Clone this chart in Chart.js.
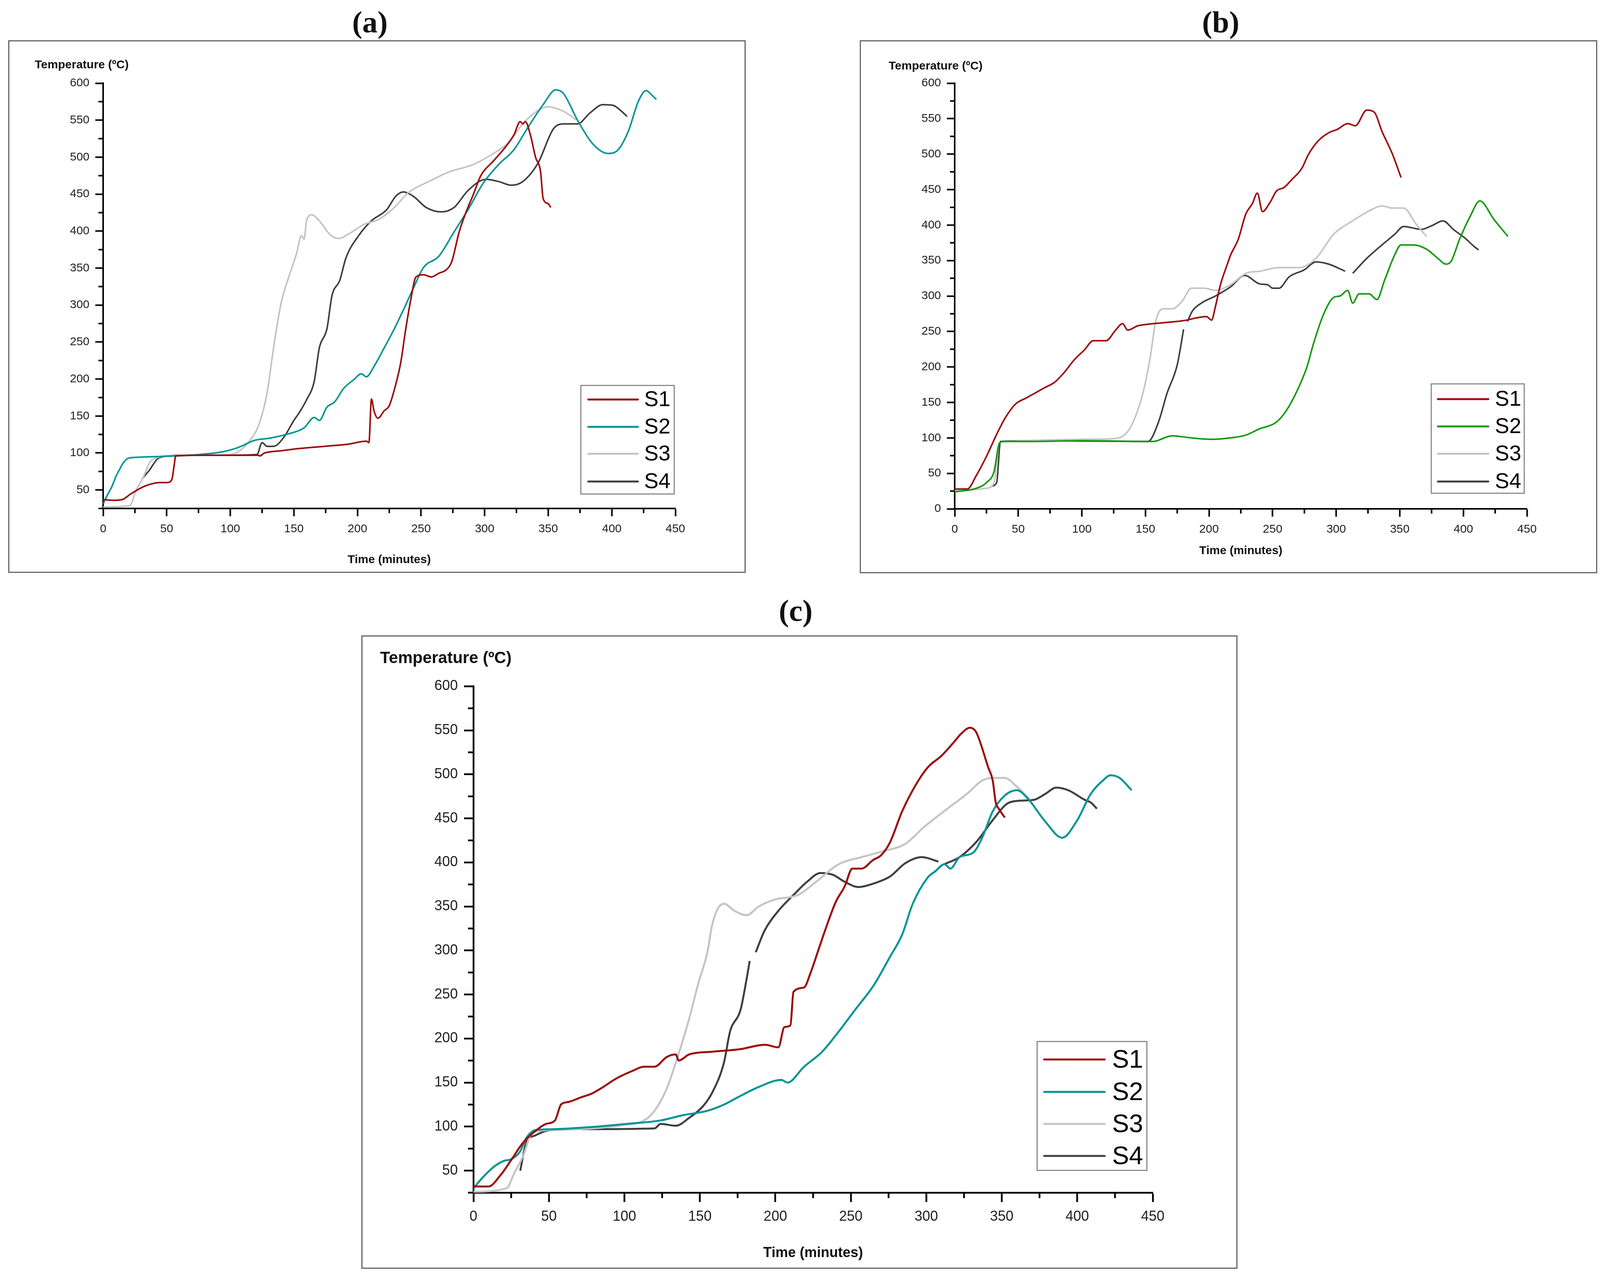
<!DOCTYPE html>
<html>
<head>
<meta charset="utf-8">
<script src="https://cdn.jsdelivr.net/npm/chart.js@4.4.1/dist/chart.umd.min.js"></script>
<style>
  html, body { margin:0; padding:0; background:#fff; }
  body { width:4110px; height:3270px; position:relative; overflow:hidden; }
  canvas { position:absolute; }
  .frame { position:absolute; box-sizing:border-box; border:3px solid #666; pointer-events:none; }
  .plabel { position:absolute; transform:translate(-50%,-50%); font-family:'Liberation Serif','DejaVu Serif',serif; font-weight:bold; font-size:78px; line-height:1; color:#111; white-space:nowrap; }
</style>
</head>
<body>
<div class="plabel" style="left:947px;top:57px;">(a)</div>
<div class="plabel" style="left:3125px;top:57px;">(b)</div>
<div class="plabel" style="left:2037px;top:1564px;">(c)</div>
<canvas id="ca" width="1888" height="1364" style="left:21px;top:103px;"></canvas>
<canvas id="cb" width="1888" height="1365" style="left:2201px;top:103px;"></canvas>
<canvas id="cc" width="2243" height="1622" style="left:925px;top:1627px;"></canvas>
<div class="frame" style="left:21px;top:103px;width:1888px;height:1364px;"></div>
<div class="frame" style="left:2201px;top:103px;width:1888px;height:1365px;"></div>
<div class="frame" style="left:925px;top:1627px;width:2243px;height:1622px;"></div>
<script>
// ---------------- DATA ----------------
const seriesNames = ['S1', 'S2', 'S3', 'S4'];
const xTicks = [0, 50, 100, 150, 200, 250, 300, 350, 400, 450];
const xMinor = [25, 75, 125, 175, 225, 275, 325, 375, 425];
const yTicksA = [50, 100, 150, 200, 250, 300, 350, 400, 450, 500, 550, 600];
const yTicksB = [0, 50, 100, 150, 200, 250, 300, 350, 400, 450, 500, 550, 600];
const yTicksC = [50, 100, 150, 200, 250, 300, 350, 400, 450, 500, 550, 600];
const yMinor = [25, 75, 125, 175, 225, 275, 325, 375, 425, 475, 525, 575];

// Panel (a)
const timeA1 = [0, 8, 15, 22, 32.5, 40, 44, 50, 54, 56, 57, 80, 110, 122, 123, 127, 140, 154, 174, 193, 207, 209, 211, 213, 216, 221, 225, 230, 234, 238, 242, 246, 252, 258, 264, 270, 274, 280, 285, 291, 297, 307, 317, 323, 328, 330, 332, 336, 340, 344, 346, 350, 352];
const tempA1 = [37, 36, 37, 45, 55, 59, 60, 60, 64, 85, 96, 97, 97, 97, 96, 100, 103, 106, 109, 112, 116, 114, 173, 157, 147, 157, 164, 192, 222, 268, 308, 338, 341, 338, 343, 348, 358, 399, 424, 449, 475, 495, 515, 530, 548, 545, 548, 530, 500, 480, 444, 437, 432];
const timeA2 = [0, 3, 7, 10, 13, 16, 20, 25, 56, 76, 95, 107, 119, 131, 146, 158, 166, 170, 176, 182, 189, 197, 203, 207, 213, 221, 229, 236, 244, 252, 264, 276, 287, 299, 311, 323, 334, 346, 356, 362, 373, 385, 397, 405, 413, 421, 427, 432, 435];
const tempA2 = [31, 42, 55, 68, 78, 87, 93, 94, 96, 98, 102, 108, 117, 120, 126, 134, 148, 144, 162, 169, 187, 199, 207, 203, 217, 242, 268, 293, 323, 351, 366, 399, 429, 465, 490, 510, 540, 571, 591, 586, 550, 518, 505, 510, 535, 576, 590, 583, 578];
const timeA3 = [0, 21, 26, 31.5, 36.5, 43, 48, 80, 100, 115, 123, 129, 134, 140, 146, 152, 156, 158, 160, 164, 170, 178, 185, 193, 205, 217, 229, 240, 256, 272, 291, 307, 319, 330, 342, 350, 358, 366, 372];
const tempA3 = [27, 29, 50, 67, 87, 94, 96, 97, 98, 116, 141, 182, 242, 303, 338, 369, 394, 389, 414, 422, 414, 396, 390, 396, 409, 416, 432, 452, 467, 480, 490, 505, 520, 545, 563, 568, 565, 558, 550];
const timeA4 = [30.6, 36.5, 42.7, 47, 60, 100, 121, 125, 129, 134, 142, 150, 154, 160, 166, 170, 176, 180, 186, 191, 201, 211, 223, 230, 236, 244, 254, 266, 276, 287, 301, 311, 321, 330, 342, 354, 362, 373, 383, 393, 401, 407, 412];
const tempA4 = [65, 77, 92, 95, 97, 97, 98, 114, 109, 109, 121, 144, 154, 172, 197, 242, 268, 313, 333, 364, 394, 414, 429, 447, 453, 447, 432, 426, 432, 455, 470, 467, 462, 467, 492, 538, 545, 545, 560, 571, 570, 563, 555];

// Panel (b)
const timeB1 = [0, 10, 17, 25, 33, 40, 48, 56, 63, 71, 79, 86, 94, 102, 109, 119, 127, 132, 136, 144, 156, 179, 198, 202, 205, 209, 215, 217, 223, 229, 234, 238, 242, 248, 253, 259, 265, 273, 278, 286, 294, 301, 309, 315, 324, 330, 336, 344, 351];
const tempB1 = [28, 28, 47, 74, 105, 129, 148, 156, 163, 171, 179, 192, 210, 224, 237, 237, 253, 261, 252, 258, 261, 265, 271, 266, 285, 316, 348, 358, 380, 416, 430, 445, 419, 432, 448, 453, 464, 480, 499, 519, 530, 535, 543, 540, 562, 559, 532, 501, 467];
const timeB2 = [0, 17, 25, 31, 35, 38, 60, 100, 156, 171, 186, 202, 217, 229, 240, 252, 259, 267, 277, 282, 290, 298, 303, 309, 313, 318, 326, 332, 338, 346, 351, 361, 371, 380, 386, 390, 397, 405, 413, 424, 435];
const tempB2 = [24, 29, 37, 53, 92, 95, 95, 96, 95, 103, 100, 98, 100, 104, 113, 121, 134, 158, 200, 232, 274, 298, 300, 308, 290, 303, 303, 295, 322, 358, 372, 372, 366, 353, 345, 348, 380, 411, 434, 408, 384];
const timeB3 = [0, 25, 31, 35, 40, 102, 125, 134, 140, 148, 154, 158, 164, 171, 179, 186, 196, 205, 217, 229, 240, 255, 271, 284, 298, 313, 328, 336, 344, 353, 363, 371];
const tempB3 = [25, 29, 37, 92, 95, 98, 99, 105, 121, 163, 216, 264, 282, 282, 293, 311, 311, 308, 316, 332, 335, 340, 340, 353, 387, 406, 422, 427, 424, 424, 401, 384];
const timeB4 = [29, 33, 36, 60, 148, 152, 160, 167, 175, 180, 181.5, 183, 187, 194, 205, 217, 228, 240, 246, 250, 255, 263, 275, 284, 294, 307, 310, 313, 324, 336, 346, 353, 367, 375, 384, 392, 401, 409, 412];
const tempB4 = [32, 37, 95, 96, 95, 95, 121, 163, 203, 253, null, 264, 279, 290, 300, 313, 329, 317, 316, 311, 311, 327, 337, 348, 345, 335, null, 332, 353, 372, 387, 398, 394, 399, 406, 394, 382, 369, 365];

// Panel (c)
const timeC1 = [0, 10, 18, 25, 33, 41, 48, 54, 58, 63, 71, 79, 86, 94, 105, 113, 120, 128, 134, 136, 143, 158, 177, 193, 202, 206, 210, 212, 219, 223, 229, 234, 240, 246, 251, 257, 265, 270, 276, 284, 293, 301, 310, 318, 323, 329, 333, 341, 344, 346, 348, 352];
const tempC1 = [32, 32, 45, 62, 82, 95, 103, 107, 125, 128, 133, 138, 145, 154, 163, 168, 168, 179, 182, 175, 182, 185, 188, 193, 190, 213, 215, 253, 258, 273, 303, 328, 355, 373, 393, 393, 403, 408, 423, 458, 488, 508, 521, 536, 546, 553, 548, 508, 493, 468, 461, 451];
const timeC2 = [0, 6, 14, 20, 25, 31, 35, 41, 52, 82, 101, 124, 139, 155, 166, 177, 189, 204, 208, 219, 231, 242, 253, 265, 276, 284, 291, 301, 306, 312, 316, 322, 331, 337, 344, 352, 360, 367, 379, 390, 400, 409, 417, 422, 428, 436];
const tempC2 = [30, 42, 55, 61, 63, 72, 87, 96, 97, 100, 103, 107, 113, 118, 125, 135, 145, 153, 150, 168, 185, 208, 233, 260, 293, 318, 353, 383, 390, 398, 393, 406, 411, 428, 458, 476, 482, 473, 446, 428, 448, 478, 493, 499, 496, 482];
const timeC3 = [0, 22, 27, 33, 39, 52, 101, 113, 120, 128, 136, 143, 149, 155, 158, 162, 166, 173, 181, 189, 200, 215, 227, 242, 257, 272, 286, 299, 314, 327, 337, 344, 352, 360, 369];
const tempC3 = [26, 30, 47, 67, 93, 96, 102, 107, 118, 143, 183, 223, 263, 298, 328, 348, 353, 345, 340, 350, 358, 363, 378, 398, 406, 413, 421, 441, 461, 478, 493, 496, 496, 486, 471];
const timeC4 = [31, 35, 41, 48, 60, 120, 124, 134, 143, 152, 158, 166, 170, 177, 181, 183, 184.5, 187, 193, 202, 212, 221, 230, 238, 246, 255, 265, 276, 286, 297, 308, 310, 312, 322, 333, 344, 353, 361, 371, 379, 386, 394, 405, 409, 413];
const tempC4 = [50, 82, 90, 95, 97, 98, 103, 101, 110, 123, 138, 173, 208, 233, 268, 288, null, 298, 323, 345, 363, 378, 388, 386, 378, 372, 376, 384, 399, 406, 401, null, 398, 406, 423, 448, 466, 470, 471, 478, 485, 482, 471, 468, 461];

// ---------------- STYLE / LAYOUT ----------------
const FONT = "'Liberation Sans', Arial, sans-serif";
const colorsTeal = ['#9b0b0b', '#009494', '#c4c4c4', '#3f3f3f'];
const colorsGreen = ['#9b0b0b', '#139a13', '#c4c4c4', '#3f3f3f'];

const pair = (ts, vs) => ts.map((t, i) => ({ x: t, y: vs[i] }));

const minorTicksPlugin = {
  id: 'minorTicks',
  afterDraw(chart, args, o) {
    const { ctx, chartArea } = chart;
    const xs = chart.scales.x, ys = chart.scales.y;
    ctx.save();
    ctx.strokeStyle = '#000';
    ctx.lineWidth = o.width;
    ctx.beginPath();
    o.x.forEach(v => {
      const px = xs.getPixelForValue(v);
      ctx.moveTo(px, chartArea.bottom);
      ctx.lineTo(px, chartArea.bottom + o.len);
    });
    o.y.forEach(v => {
      const py = ys.getPixelForValue(v);
      ctx.moveTo(chartArea.left, py);
      ctx.lineTo(chartArea.left - o.len, py);
    });
    ctx.stroke();
    ctx.restore();
  }
};

const boxLegendPlugin = {
  id: 'boxLegend',
  afterDraw(chart, args, o) {
    const { ctx } = chart;
    ctx.save();
    ctx.fillStyle = '#fff';
    ctx.fillRect(o.box[0], o.box[1], o.box[2] - o.box[0], o.box[3] - o.box[1]);
    ctx.strokeStyle = '#777';
    ctx.lineWidth = 2.5;
    ctx.strokeRect(o.box[0], o.box[1], o.box[2] - o.box[0], o.box[3] - o.box[1]);
    ctx.font = o.fontSize + 'px ' + FONT;
    ctx.textBaseline = 'middle';
    ctx.textAlign = 'left';
    chart.data.datasets.forEach((ds, i) => {
      const y = o.rows[i];
      ctx.strokeStyle = ds.borderColor;
      ctx.lineWidth = o.lineW;
      ctx.lineCap = 'round';
      ctx.beginPath();
      ctx.moveTo(o.lineX[0], y);
      ctx.lineTo(o.lineX[1], y);
      ctx.stroke();
      ctx.fillStyle = '#000';
      ctx.fillText(ds.label, o.textX, y + o.fontSize * 0.04);
    });
    ctx.restore();
  }
};

function makePanel(id, series, colors, yMin, yTicks, P) {
  const datasets = series.map((s, i) => ({
    label: seriesNames[i],
    data: pair(s[0], s[1]),
    borderColor: colors[i],
    backgroundColor: colors[i],
    borderWidth: P.lineW,
    pointRadius: 0,
    fill: false,
    spanGaps: false,
    cubicInterpolationMode: 'monotone'
  }));
  return new Chart(document.getElementById(id), {
    type: 'line',
    data: { datasets },
    options: {
      responsive: false,
      animation: false,
      devicePixelRatio: 1,
      events: [],
      layout: { padding: P.pad },
      scales: {
        x: {
          type: 'linear', min: 0, max: 450,
          afterBuildTicks: s => { s.ticks = xTicks.map(v => ({ value: v })); },
          afterFit: s => { s.height = P.xH; },
          grid: { display: true, drawOnChartArea: false, drawTicks: true, tickLength: P.tickLen, tickWidth: P.axisW, tickColor: '#000' },
          border: { display: true, width: P.axisW, color: '#000' },
          ticks: { font: { family: FONT, size: P.tickFont }, color: '#222', padding: P.tickPad, maxRotation: 0, autoSkip: false },
          title: { display: true, text: 'Time (minutes)', color: '#111', font: { family: FONT, size: P.xTitleFont, weight: 'bold' }, padding: { top: 0, bottom: P.xTitlePadB } }
        },
        y: {
          type: 'linear', min: yMin, max: 600,
          afterBuildTicks: s => { s.ticks = yTicks.map(v => ({ value: v })); },
          afterFit: s => { s.width = P.yW; },
          grid: { display: true, drawOnChartArea: false, drawTicks: true, tickLength: P.tickLen, tickWidth: P.axisW, tickColor: '#000' },
          border: { display: true, width: P.axisW, color: '#000' },
          ticks: { font: { family: FONT, size: P.tickFont }, color: '#222', padding: P.tickPad, autoSkip: false }
        }
      },
      plugins: {
        legend: { display: false },
        tooltip: { enabled: false },
        title: { display: true, text: 'Temperature (ºC)', align: 'start', color: '#111', font: { family: FONT, size: P.titleFont, weight: 'bold', lineHeight: 1.2 }, padding: P.titlePad },
        minorTicks: { x: xMinor, y: yMinor, len: P.minorLen, width: P.axisW },
        boxLegend: P.legend
      }
    },
    plugins: [minorTicksPlugin, boxLegendPlugin]
  });
}

const layoutA = {
  pad: { left: 68, top: 30, right: 180, bottom: 0 }, yW: 175, xH: 165,
  titleFont: 30, titlePad: { top: 16, bottom: 28 }, xTitleFont: 30, xTitlePadB: 15,
  tickFont: 30, tickPad: 15, tickLen: 20, minorLen: 12, axisW: 4, lineW: 4,
  legend: { box: [1466, 884, 1705, 1162], rows: [920, 990, 1059, 1130], lineX: [1485, 1612], textX: 1628, fontSize: 55, lineW: 5 }
};
const layoutB = {
  pad: { left: 74, top: 30, right: 180, bottom: 0 }, yW: 169, xH: 165,
  titleFont: 30, titlePad: { top: 19, bottom: 25 }, xTitleFont: 30, xTitlePadB: 39,
  tickFont: 30, tickPad: 15, tickLen: 20, minorLen: 12, axisW: 4, lineW: 4,
  legend: { box: [1463, 880, 1701, 1160], rows: [919, 989, 1059, 1130], lineX: [1480, 1609], textX: 1626, fontSize: 55, lineW: 5 }
};
const layoutC = {
  pad: { left: 48, top: 10, right: 217, bottom: 0 }, yW: 239, xH: 195,
  titleFont: 42, titlePad: { top: 24, bottom: 46 }, xTitleFont: 36, xTitlePadB: 18,
  tickFont: 36, tickPad: 16, tickLen: 24, minorLen: 14, axisW: 4.5, lineW: 5,
  legend: { box: [1730, 1040, 2011, 1370], rows: [1086, 1169, 1251, 1333], lineX: [1748, 1903], textX: 1922, fontSize: 65, lineW: 5 }
};

makePanel('ca', [[timeA1, tempA1], [timeA2, tempA2], [timeA3, tempA3], [timeA4, tempA4]], colorsTeal, 25, yTicksA, layoutA);
makePanel('cb', [[timeB1, tempB1], [timeB2, tempB2], [timeB3, tempB3], [timeB4, tempB4]], colorsGreen, 0, yTicksB, layoutB);
makePanel('cc', [[timeC1, tempC1], [timeC2, tempC2], [timeC3, tempC3], [timeC4, tempC4]], colorsTeal, 25, yTicksC, layoutC);
</script>
</body>
</html>
